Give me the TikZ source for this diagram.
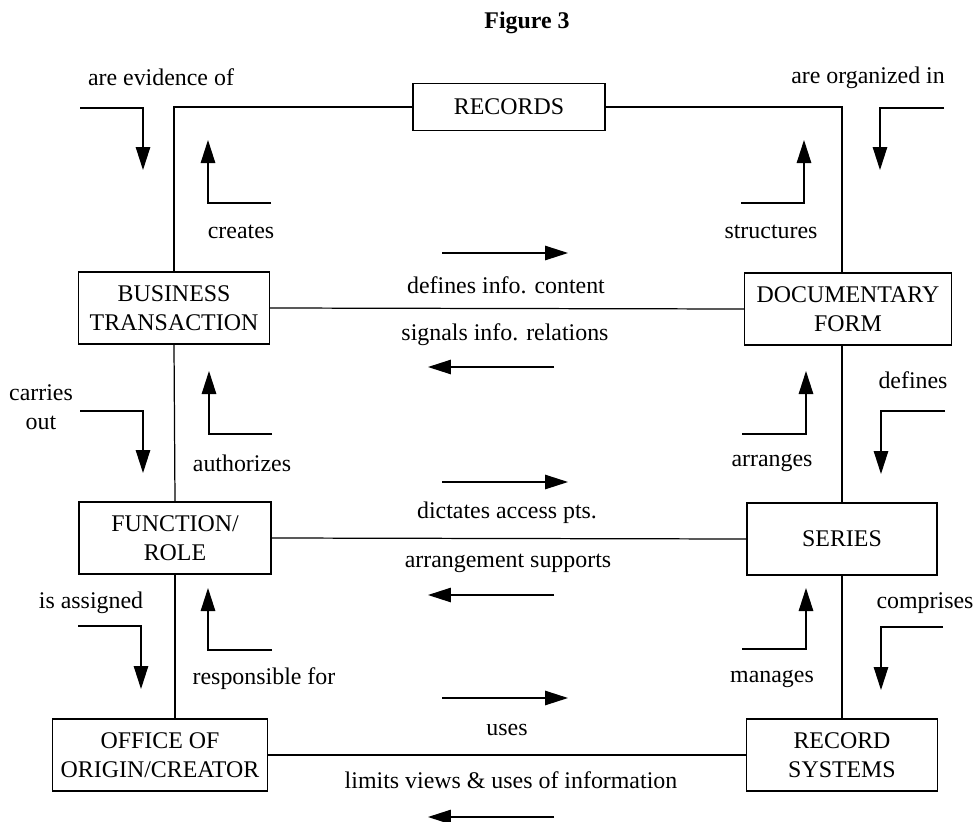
\documentclass[tikz,border=0pt]{standalone}
\usepackage{fontspec}
\setmainfont{Liberation Serif}
\usetikzlibrary{arrows.meta}

\begin{document}
\begin{tikzpicture}[x=0.02cm, y=-0.02cm,
    box/.style={draw, line width=0.8pt, minimum height=1.44cm, align=center, font=\fontsize{13.6}{16.6}\selectfont},
    lbl/.style={align=center, font=\fontsize{13.6}{16.6}\selectfont},
    flow/.style={line width=0.7pt, -{Triangle[length=0.46cm, width=0.29cm]}},
    link/.style={line width=0.7pt}]
    \useasboundingbox (0,0) rectangle (975,822);

    \node[font=\fontsize{13.6}{16.6}\selectfont\bfseries] (title) at (527,23) {Figure 3};

    % entities
    \node[box, minimum width=3.84cm, minimum height=0.94cm] (rec) at (509,107) {RECORDS};
    \node[box, minimum width=3.82cm] (bt) at (174,308) {BUSINESS\\TRANSACTION};
    \node[box, minimum width=4.14cm] (df) at (848,309) {DOCUMENTARY\\FORM};
    \node[box, minimum width=3.84cm] (fr) at (175,538) {FUNCTION/\\ROLE};
    \node[box, minimum width=3.80cm] (ser) at (842,539) {SERIES};
    \node[box, minimum width=4.30cm] (off) at (160,755) {OFFICE OF\\ORIGIN/CREATOR};
    \node[box, minimum width=3.82cm] (rs) at (842,755) {RECORD\\SYSTEMS};

    % frame lines
    \draw[link] (rec.west) -| (bt.north);
    \draw[link] (rec.east) -| (ser.north |- df.north);
    \draw[link] (bt.east) -- (df.west);
    \draw[link] (fr.east) -- (ser.west);
    \draw[link] (off.east) -- (rs.west);
    \draw[link] (bt.south) -- (fr.north);
    \draw[link] (fr.south) -- (fr.south |- off.north);
    \draw[link] (df.south -| ser.north) -- (ser.north);
    \draw[link] (ser.south) -- (rs.north);

    % relation labels
    \node[lbl] (evid) at (161,77) {are evidence of};
    \node[lbl] (org) at (868,78) {are organized in};
    \node[lbl] (creates) at (241,232) {creates};
    \node[lbl] (struct) at (771,232) {structures};
    \node[lbl] (defcont) at (506,285) {defines info. content};
    \node[lbl] (sigrel) at (505,335) {signals info. relations};
    \node[lbl] (carries) at (41,407) {carries\\out};
    \node[lbl] (auth) at (242,463) {authorizes};
    \node[lbl] (defs) at (913,380) {defines};
    \node[lbl] (arrg) at (772,463) {arranges};
    \node[lbl] (dict) at (507,513) {dictates access pts.};
    \node[lbl] (supp) at (508,563) {arrangement supports};
    \node[lbl] (assg) at (91,603) {is assigned};
    \node[lbl] (resp) at (264,679) {responsible for};
    \node[lbl] (comp) at (925,603) {comprises};
    \node[lbl] (mng) at (772,679) {manages};
    \node[lbl] (uses) at (507,730) {uses};
    \node[lbl] (limits) at (511,780) {limits views \& uses of information};

    % bent arrows
    \draw[flow] (80,108) -- (143,108) -- (143,170);
    \draw[flow] (271,203) -- (208,203) -- (208,140);
    \draw[flow] (944,108) -- (880,108) -- (880,170);
    \draw[flow] (741,203) -- (804,203) -- (804,140);
    \draw[flow] (80,411) -- (143,411) -- (143,473);
    \draw[flow] (272,434) -- (209,434) -- (209,371);
    \draw[flow] (945,411) -- (881,411) -- (881,474);
    \draw[flow] (742,434) -- (806,434) -- (806,371);
    \draw[flow] (78,626) -- (141,626) -- (141,689);
    \draw[flow] (272,650) -- (208,650) -- (208,588);
    \draw[flow] (943,627) -- (881,627) -- (881,690);
    \draw[flow] (742,649) -- (806,649) -- (806,588);

    % straight arrows
    \foreach \y in {253,482,698}
        \draw[flow] (442,\y) -- (568,\y);
    \foreach \y in {367,595,817}
        \draw[flow] (554,\y) -- (428,\y);
\end{tikzpicture}
\end{document}
